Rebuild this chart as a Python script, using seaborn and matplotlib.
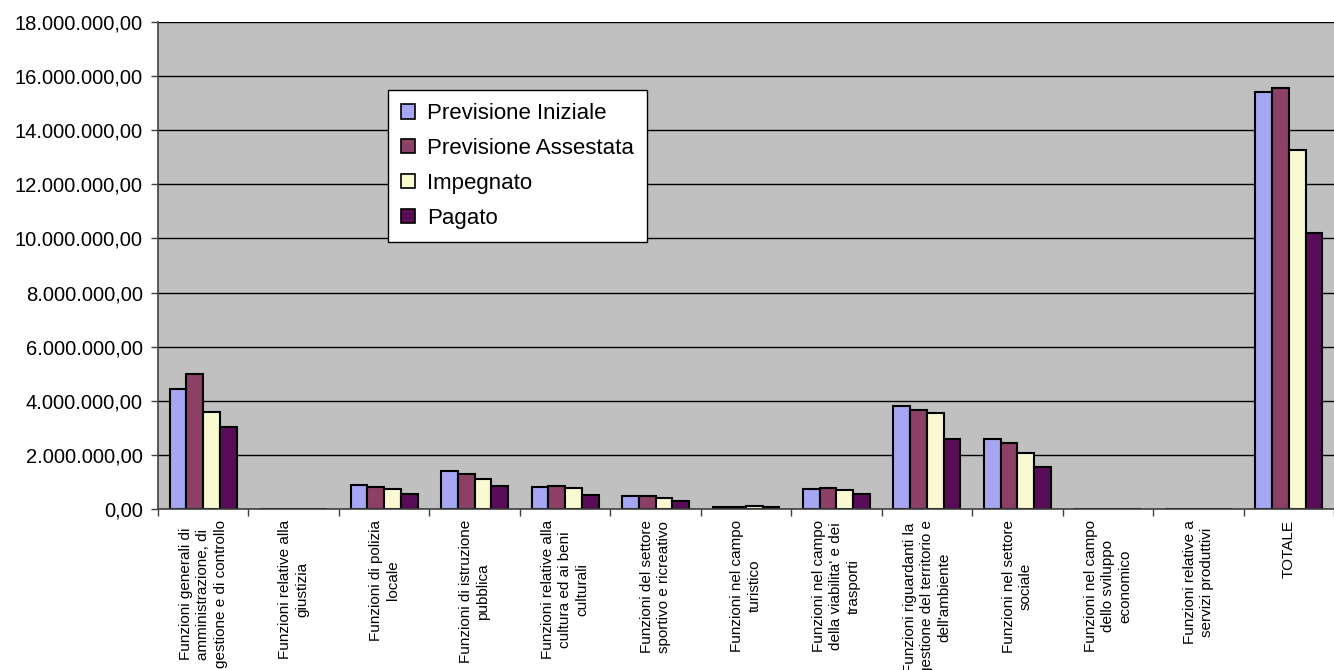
import seaborn as sns
import matplotlib.pyplot as plt
import matplotlib.ticker as mticker
import pandas as pd

categorie = [
    "Funzioni generali di\namministrazione, di\ngestione e di controllo",
    "Funzioni relative alla\ngiustizia",
    "Funzioni di polizia\nlocale",
    "Funzioni di istruzione\npubblica",
    "Funzioni relative alla\ncultura ed ai beni\nculturali",
    "Funzioni del settore\nsportivo e ricreativo",
    "Funzioni nel campo\nturistico",
    "Funzioni nel campo\ndella viabilita' e dei\ntrasporti",
    "Funzioni riguardanti la\ngestione del territorio e\ndell'ambiente",
    "Funzioni nel settore\nsociale",
    "Funzioni nel campo\ndello sviluppo\neconomico",
    "Funzioni relative a\nservizi produttivi",
    "TOTALE",
]
serie = ["Previsione Iniziale", "Previsione Assestata", "Impegnato", "Pagato"]

previsione_iniziale = [4430000, 15000, 876000, 1400000, 810000, 480000, 85000, 740000, 3820000, 2590000, 15000, 0, 15400000]
previsione_assestata = [4990000, 15000, 824000, 1280000, 850000, 480000, 90000, 760000, 3670000, 2450000, 0, 0, 15560000]
impegnato = [3600000, 12000, 740000, 1120000, 780000, 410000, 100000, 720000, 3560000, 2080000, 0, 0, 13280000]
pagato = [3040000, 8000, 554000, 860000, 520000, 300000, 70000, 550000, 2600000, 1540000, 0, 0, 10210000]

colori = ["#9999FF", "#993366", "#FFFFCC", "#660066"]

df = pd.DataFrame({
    "categoria": categorie * 4,
    "serie": [s for s in serie for _ in categorie],
    "valore": previsione_iniziale + previsione_assestata + impegnato + pagato,
})

# feel and look
sns.set_style("white")
plt.rcParams["font.family"] = ["Liberation Sans", "DejaVu Sans"]
plt.rcParams["text.color"] = "black"
plt.rcParams["xtick.color"] = "black"
plt.rcParams["ytick.color"] = "black"

fig = plt.figure(figsize=(13.34, 6.70), dpi=100)
ax = fig.add_axes([158 / 1334, (670 - 509) / 670, 1176 / 1334, 487 / 670])
ax.set_facecolor("#C0C0C0")

sns.barplot(data=df, x="categoria", y="valore", hue="serie", palette=colori,
            width=0.74, edgecolor="black", linewidth=1.5, ax=ax, errorbar=None)

ax.set_ylim(0, 18000000)
ax.set_xlim(-0.5, len(categorie) - 0.5)
ax.yaxis.set_major_locator(mticker.MultipleLocator(2000000))
ax.yaxis.set_major_formatter(mticker.FuncFormatter(
    lambda v, p: "{:,.2f}".format(v).replace(",", "X").replace(".", ",").replace("X", ".")))
ax.grid(axis="y", color="black", linewidth=1)
ax.set_axisbelow(True)

for s in ["top", "right"]:
    ax.spines[s].set_visible(False)
for s in ["left", "bottom"]:
    ax.spines[s].set_color("#404040")
    ax.spines[s].set_linewidth(1.2)

ax.tick_params(axis="y", length=5, width=1, color="#404040", labelcolor="black",
               labelsize=14.5, direction="out", left=True, pad=6)
ax.set_xticks(range(len(categorie)))
ax.set_xticklabels(categorie, rotation=90, ha="center", va="top", fontsize=11,
                   multialignment="center", linespacing=1.3)
ax.tick_params(axis="x", which="major", length=0, pad=8, labelcolor="black")
ax.set_xticks([i - 0.5 for i in range(len(categorie) + 1)], minor=True)
ax.tick_params(axis="x", which="minor", length=5, width=1, color="#404040", bottom=True)
ax.set_xlabel("")
ax.set_ylabel("")

leg = ax.legend(loc="upper left", bbox_to_anchor=(0.1955, 0.8604), fontsize=16,
                frameon=True, fancybox=False, edgecolor="black", facecolor="white",
                framealpha=1, handlelength=0.62, handleheight=0.62, handletextpad=0.55,
                labelspacing=0.62, borderpad=0.6, borderaxespad=0)
leg.get_frame().set_linewidth(1)
for t in leg.get_texts():
    t.set_color("black")
for h in leg.legend_handles:
    h.set_edgecolor("black")
    h.set_linewidth(1.2)

fig.savefig("out.png", dpi=100)
